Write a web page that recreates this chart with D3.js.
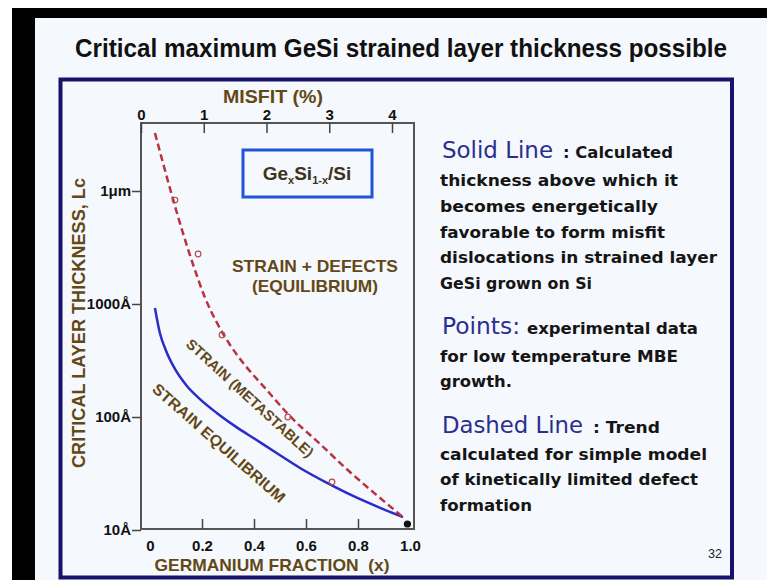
<!DOCTYPE html>
<meta charset="utf-8">
<head>
    <title>GeSi critical thickness</title>
    <script src="https://cdn.jsdelivr.net/npm/d3@7"></script>
    <style>
        body { margin: 0; background: #fff; }
        text { font-family: "Liberation Sans", Arial, sans-serif; }
        .brown { fill: #634816; font-weight: bold; }
        .head { font-family: "DejaVu Sans", sans-serif; fill: #2b2e8e; }
        .body { font-family: "DejaVu Sans", sans-serif; font-weight: bold; fill: #151515; }
    </style>
</head>
<body>
<div id="chart"></div>
<script>
// germanium fraction (x) vs critical thickness Lc in Angstrom
var solidX  = [0.019, 0.038, 0.062, 0.096, 0.142, 0.192, 0.258, 0.327, 0.404, 0.481, 0.577, 0.681, 0.781, 0.885, 0.973]
var solidLc = [923, 553, 384, 266, 188, 144, 108, 83, 63.8, 49, 35.4, 26.1, 20, 15.7, 13.0]

var dashX  = [0.019, 0.050, 0.085, 0.123, 0.165, 0.212, 0.258, 0.308, 0.365, 0.442, 0.538, 0.654, 0.769, 0.885, 0.973]
var dashLc = [32600, 17700, 9040, 4520, 2260, 1130, 679, 434, 288, 181, 102, 57.7, 32.6, 19.2, 13.0]

// experimental points (low temperature MBE)
var pointX  = [0.096, 0.185, 0.277, 0.530, 0.70, 0.99]
var pointLc = [8320, 2770, 532, 100, 26.6, 11.3]

var fracTicks   = [0, 0.2, 0.4, 0.6, 0.8, 1.0]
var misfitTicks = [0, 1, 2, 3, 4]
var lcTicks     = [10, 100, 1000, 10000]
var lcLabels    = ["10Å", "100Å", "1000Å", "1μm"]

var W = 767, H = 580
var plot = {left: 141, top: 123, right: 414, bottom: 529}

var svg = d3.select("#chart").append("svg")
    .attr("width", W).attr("height", H)

// screen edges + slide
svg.append("rect").attr("width", W).attr("height", H).attr("fill", "#fff")
svg.append("rect").attr("x", 12).attr("y", 8).attr("width", W - 12).attr("height", H - 8).attr("fill", "#000")
svg.append("rect").attr("x", 35).attr("y", 18).attr("width", W - 35).attr("height", H - 18).attr("fill", "#f5f8fc")
svg.append("rect").attr("x", 60.5).attr("y", 79.5).attr("width", 671.5).attr("height", 498)
    .attr("fill", "none").attr("stroke", "#17126b").attr("stroke-width", 4)

svg.append("text").attr("x", 401).attr("y", 57).attr("text-anchor", "middle")
    .attr("font-size", 25).attr("font-weight", "bold").attr("fill", "#111")
    .attr("textLength", 652).attr("lengthAdjust", "spacingAndGlyphs")
    .text("Critical maximum GeSi strained layer thickness possible")

// scales
var x = d3.scaleLinear().domain([0, 1]).range([150, 410])
var misfit = d3.scaleLinear().domain([0, 4]).range([141, 392])
var y = d3.scaleLog().domain([10, 10000]).range([530, 191])

svg.append("clipPath").attr("id", "clip").append("rect")
    .attr("x", plot.left).attr("y", plot.top)
    .attr("width", plot.right - plot.left).attr("height", plot.bottom - plot.top)

svg.append("rect")
    .attr("x", plot.left).attr("y", plot.top)
    .attr("width", plot.right - plot.left).attr("height", plot.bottom - plot.top)
    .attr("fill", "none").attr("stroke", "#555").attr("stroke-width", 2)

// bottom axis: ticks inward, labels below
var gx = svg.append("g").attr("transform", "translate(0," + plot.bottom + ")")
    .call(d3.axisBottom(x).tickValues(fracTicks).tickSize(-10).tickPadding(11)
        .tickFormat(function(d){ return d === 0 ? "0" : d3.format(".1f")(d) }))
gx.select(".domain").remove()
gx.selectAll(".tick line").filter(function(d){ return d === 0 || d === 1 }).remove()

// top axis: misfit (%)
var gt = svg.append("g").attr("transform", "translate(0," + plot.top + ")")
    .call(d3.axisTop(misfit).tickValues(misfitTicks).tickSize(-10).tickPadding(3)
        .tickFormat(d3.format("d")))
gt.select(".domain").remove()

// left axis: log thickness
var gy = svg.append("g").attr("transform", "translate(" + plot.left + ",0)")
    .call(d3.axisLeft(y).tickValues(lcTicks).tickSize(9).tickPadding(1)
        .tickFormat(function(d, i){ return lcLabels[i] }))
gy.select(".domain").remove()

;[gx, gt, gy].forEach(function(g){
    g.attr("font-family", "Liberation Sans, Arial, sans-serif").attr("font-size", 15)
    g.selectAll("text").attr("font-weight", "bold").attr("fill", "#111")
    g.selectAll(".tick line").attr("stroke", "#444").attr("stroke-width", 1.5)
})

// axis titles
svg.append("text").attr("class", "brown").attr("x", 273).attr("y", 103)
    .attr("text-anchor", "middle").attr("font-size", 18)
    .attr("textLength", 100).attr("lengthAdjust", "spacingAndGlyphs")
    .text("MISFIT (%)")
svg.append("text").attr("class", "brown").attr("x", 272).attr("y", 571)
    .attr("text-anchor", "middle").attr("font-size", 17).style("white-space", "pre")
    .attr("textLength", 235).attr("lengthAdjust", "spacingAndGlyphs")
    .text("GERMANIUM FRACTION  (x)")
svg.append("text").attr("class", "brown")
    .attr("transform", "translate(85,323) rotate(-90)")
    .attr("text-anchor", "middle").attr("font-size", 18)
    .attr("textLength", 290).attr("lengthAdjust", "spacingAndGlyphs")
    .text("CRITICAL LAYER THICKNESS, Lc")

// curves
var solid = solidX.map(function(d, i){ return [d, solidLc[i]] })
var dashed = dashX.map(function(d, i){ return [d, dashLc[i]] })
var line = d3.line()
    .x(function(d){ return x(d[0]) })
    .y(function(d){ return y(d[1]) })
    .curve(d3.curveMonotoneX)

var curves = svg.append("g").attr("clip-path", "url(#clip)")
curves.append("path").datum(solid).attr("d", line)
    .attr("fill", "none").attr("stroke", "#2a2bc9").attr("stroke-width", 2.5)
curves.append("path").datum(dashed).attr("d", line)
    .attr("fill", "none").attr("stroke", "#b8323f").attr("stroke-width", 2.5)
    .attr("stroke-dasharray", "7,4")

var last = pointX.length - 1
curves.selectAll("circle")
    .data(pointX.map(function(d, i){ return [d, pointLc[i]] }))
    .enter().append("circle")
    .attr("cx", function(d){ return x(d[0]) })
    .attr("cy", function(d){ return y(d[1]) })
    .attr("r", function(d, i){ return i === last ? 3 : 2.8 })
    .attr("fill", function(d, i){ return i === last ? "#111" : "none" })
    .attr("stroke", function(d, i){ return i === last ? "#111" : "#b0504a" })
    .attr("stroke-width", 1.2)

// legend box
svg.append("rect").attr("x", 243).attr("y", 150).attr("width", 129).attr("height", 47)
    .attr("fill", "none").attr("stroke", "#1f55d8").attr("stroke-width", 3)
var box = svg.append("text").attr("x", 307).attr("y", 180).attr("text-anchor", "middle")
    .attr("font-size", 19).attr("font-weight", "bold").attr("fill", "#3d3220")
box.append("tspan").text("Ge")
box.append("tspan").attr("font-size", 11).attr("dy", 4).text("x")
box.append("tspan").attr("dy", -4).text("Si")
box.append("tspan").attr("font-size", 11).attr("dy", 4).text("1-x")
box.append("tspan").attr("dy", -4).text("/Si")

// region labels
svg.append("text").attr("class", "brown").attr("x", 315).attr("y", 272)
    .attr("text-anchor", "middle").attr("font-size", 17)
    .attr("textLength", 166).attr("lengthAdjust", "spacingAndGlyphs")
    .text("STRAIN + DEFECTS")
svg.append("text").attr("class", "brown").attr("x", 315).attr("y", 292)
    .attr("text-anchor", "middle").attr("font-size", 17)
    .attr("textLength", 126).attr("lengthAdjust", "spacingAndGlyphs")
    .text("(EQUILIBRIUM)")
svg.append("text").attr("class", "brown")
    .attr("transform", "translate(250,398) rotate(42.6)")
    .attr("text-anchor", "middle").attr("dy", "0.35em").attr("font-size", 14.5)
    .attr("textLength", 167).attr("lengthAdjust", "spacingAndGlyphs")
    .text("STRAIN (METASTABLE)")
svg.append("text").attr("class", "brown")
    .attr("transform", "translate(219,443) rotate(41.4)")
    .attr("text-anchor", "middle").attr("dy", "0.35em").attr("font-size", 15.5)
    .attr("textLength", 171).attr("lengthAdjust", "spacingAndGlyphs")
    .text("STRAIN EQUILIBRIUM")

// notes on the right
function note(cls, tx, ty, str, len, size) {
    svg.append("text").attr("class", cls).attr("x", tx).attr("y", ty)
        .attr("font-size", size).style("white-space", "pre")
        .attr("textLength", len).attr("lengthAdjust", "spacingAndGlyphs")
        .text(str)
}
note("head", 442, 158, "Solid Line", 111, 22.5)
note("body", 563, 158, ": Calculated", 110, 16)
note("body", 440, 186, "thickness above which it", 238, 16)
note("body", 440, 212, "becomes energetically", 218, 16)
note("body", 440, 238, "favorable to form misfit", 225, 16)
note("body", 440, 263, "dislocations in strained layer", 277, 16)
note("body", 440, 289, "GeSi grown on Si", 152, 16)

note("head", 442, 334, "Points:", 78, 22.5)
note("body", 527, 334, "experimental data", 171, 16)
note("body", 440, 362, "for low temperature MBE", 238, 16)
note("body", 440, 387, "growth.", 72, 16)

note("head", 442, 433, "Dashed Line", 141, 22.5)
note("body", 593, 433, ": Trend", 67, 16)
note("body", 440, 460, "calculated for simple model", 267, 16)
note("body", 440, 485, "of kinetically limited defect", 258, 16)
note("body", 440, 511, "formation", 92, 16)

svg.append("text").attr("x", 715).attr("y", 558).attr("text-anchor", "middle")
    .attr("font-size", 13).attr("fill", "#222")
    .attr("textLength", 14).attr("lengthAdjust", "spacingAndGlyphs")
    .text("32")
</script>
</body>
